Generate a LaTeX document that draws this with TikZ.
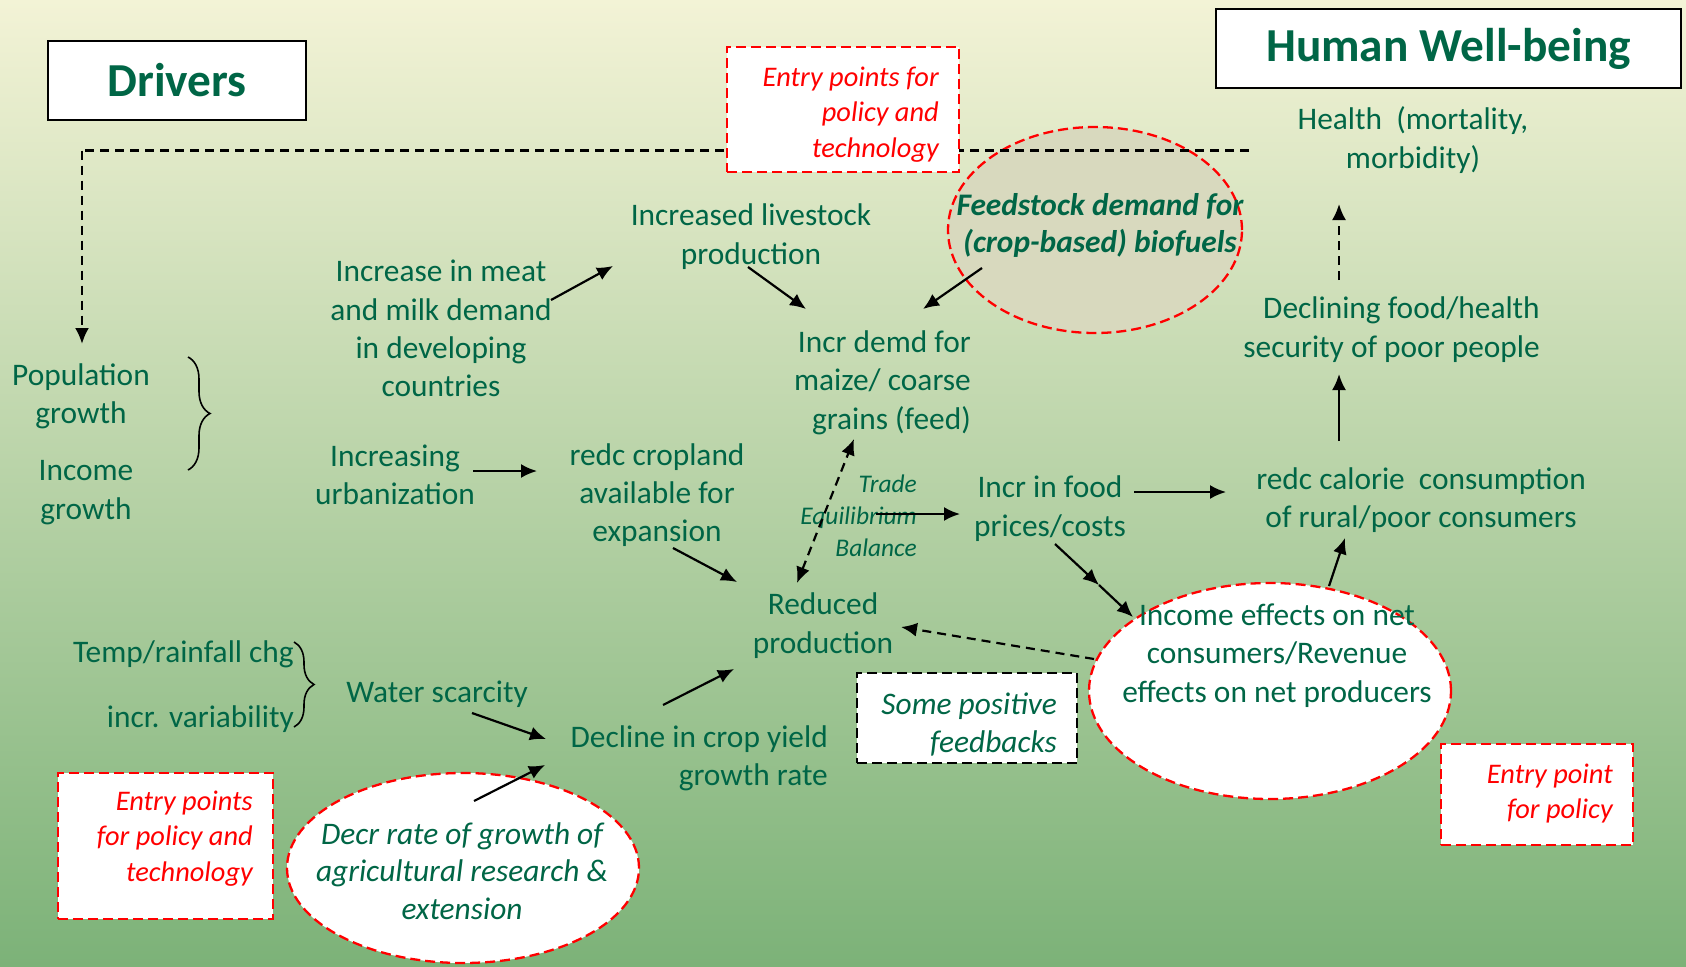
\documentclass[tikz,border=0pt]{standalone}
\usepackage{fontspec}
\setmainfont{Carlito}
\usetikzlibrary{arrows.meta,decorations.pathreplacing,shapes.geometric}
\definecolor{tgreen}{RGB}{0,102,70}
\definecolor{ered}{RGB}{255,0,0}
\definecolor{feedfill}{RGB}{216,217,190}
\definecolor{bgtop}{RGB}{243,243,214}
\definecolor{bgmid}{RGB}{206,226,182}
\definecolor{bgbot}{RGB}{124,178,120}
\tikzset{
 gtxt/.style={text=tgreen, font=\fontsize{31.5}{38.5}\selectfont, align=center, inner sep=0pt, yshift=-2.5bp},
 gtxtR/.style={gtxt, align=right},
 etxt/.style={text=ered, font=\fontsize{28.5}{35.5}\selectfont\itshape, align=right, inner sep=0pt, yshift=-2.5bp},
 itxt/.style={text=tgreen, font=\fontsize{31.5}{37.5}\selectfont\itshape, align=center, inner sep=0pt, yshift=-2.5bp},
 ttxt/.style={text=tgreen, font=\fontsize{25.5}{32}\selectfont\itshape, align=right, inner sep=0pt},
 titlebox/.style={draw=black, line width=2.5pt, fill=white, text=tgreen, font=\fontsize{47.5}{56}\selectfont\bfseries, inner sep=0pt},
 redbox/.style={draw=ered, line width=2.3pt, dash pattern=on 10bp off 5bp, fill=white, inner sep=0pt},
 redell/.style={ellipse, draw=ered, line width=2.3pt, dash pattern=on 10bp off 5bp, fill=white, inner sep=0pt},
 blkbox/.style={draw=black, line width=2.2pt, dash pattern=on 10bp off 5bp, fill=white, inner sep=0pt},
 tip/.style={Latex[length=16bp,width=14bp]},
 arr/.style={line width=2.2pt, -{Latex[length=16bp,width=14bp]}},
 darr/.style={arr, dash pattern=on 9bp off 6bp},
 brc/.style={decorate, decoration={brace, amplitude=#1}, line width=1.6pt},
}
\begin{document}
\begin{tikzpicture}[x=1bp,y=-1bp]
\useasboundingbox (0,0) rectangle (1686,966);
\shade[top color=bgtop, middle color=bgmid, bottom color=bgbot] (0,0) rectangle (1686,966);

% title boxes
\node[titlebox, minimum width=258bp, minimum height=79bp] (drivers) at (177,80.5) {Drivers};
\node[titlebox, minimum width=465bp, minimum height=79bp] (hwb) at (1448.5,48.5) {Human Well-being};

% feedstock ellipse (under the dashed line)
\node[redell, fill=feedfill, minimum width=294bp, minimum height=206bp] (feedell) at (1095,230) {};
\node[text=tgreen, font=\fontsize{31.5}{37.5}\selectfont\bfseries\itshape, align=center, inner sep=0pt, yshift=-2.5bp] (feed) at (1100,223) {Feedstock demand for\\(crop-based) biofuels};

% top dashed driver line
\coordinate (dl) at (82,150.5);
\coordinate (dr) at (1249,150.5);
\coordinate (popTop) at (82,344);
\draw[line width=2.5pt, dash pattern=on 9bp off 6bp] (dr) -- (dl);
\draw[darr, line width=2.5pt] (dl) -- (popTop);

% entry point boxes
\node[redbox, minimum width=232bp, minimum height=125bp] (ent1box) at (843,109.5) {};
\node[etxt, anchor=east] (ent1) at (939,112) {Entry points for\\policy and\\technology};
\node[redbox, minimum width=215bp, minimum height=146bp] (ent2box) at (165.5,846) {};
\node[etxt, anchor=east] (ent2) at (253,836) {Entry points\\for policy and\\technology};
\node[redbox, minimum width=192bp, minimum height=101bp] (ent3box) at (1537,794.5) {};
\node[etxt, anchor=east] (ent3) at (1613,791) {Entry point\\for policy};

% feedback box
\node[blkbox, minimum width=220bp, minimum height=90bp] (fbbox) at (967,718) {};
\node[itxt, align=right, anchor=east] (fb) at (1057,722) {Some positive\\feedbacks};

% ellipses
\node[redell, minimum width=362bp, minimum height=216bp] (incell) at (1270,691) {};
\node[gtxt] (inc) at (1277,653) {Income effects on net\\consumers/Revenue\\effects on net producers};
\node[redell, minimum width=352bp, minimum height=190bp] (decrell) at (463,868) {};
\node[itxt] (decr) at (462,868.5) {Decr rate of growth of\\agricultural research \&\\extension};

% text nodes
\node[gtxt] (health) at (1413,137.5) {Health~~(mortality,\\morbidity)};
\node[gtxtR, anchor=east] (decl) at (1540,327) {Declining food/health\\security of poor people};
\node[gtxt] (redc) at (1421,497.5) {redc calorie~~consumption\\of rural/poor consumers};
\node[gtxt] (food) at (1050,506) {Incr in food\\prices/costs};
\node[gtxt] (red) at (823,623) {Reduced\\production};
\node[gtxtR, anchor=east] (demd) at (971,380) {Incr demd for\\maize/ coarse\\grains (feed)};
\node[gtxt] (live) at (751,234) {Increased livestock\\production};
\node[gtxt] (meat) at (441,326) {Increase in meat\\and milk demand\\in developing\\countries};
\node[gtxt] (pop) at (81,394) {Population\\growth};
\node[gtxt] (incg) at (86,490) {Income\\growth};
\node[gtxt] (urb) at (395,472) {Increasing\\urbanization};
\node[gtxt] (crop) at (657,492.5) {redc cropland\\available for\\expansion};
\node[gtxt, anchor=east] (temp) at (294,652) {Temp/rainfall chg};
\node[gtxt, anchor=east] (var) at (294,717) {incr. variability};
\node[gtxt] (water) at (437,692) {Water scarcity};
\node[gtxtR, anchor=east] (decl2) at (828,755.5) {Decline in crop yield\\growth rate};
\node[ttxt, anchor=east] (trade) at (917,516) {Trade\\Equilibrium\\Balance};

% braces
\coordinate (b1t) at (188,357);
\coordinate (b1b) at (188,470);
\coordinate (b2t) at (294,642);
\coordinate (b2b) at (294,727);
\draw[brc=22bp] (b1t) -- (b1b);
\draw[brc=20bp] (b2t) -- (b2b);

% arrow end points
\coordinate (a1s) at (551,300);  \coordinate (a1e) at (613,266);
\coordinate (a2s) at (748,267);  \coordinate (a2e) at (806,309);
\coordinate (a3s) at (982,268);  \coordinate (a3e) at (923,309);
\coordinate (a4s) at (473,471);  \coordinate (a4e) at (537,471);
\coordinate (a5s) at (673,548);  \coordinate (a5e) at (737,582);
\coordinate (a6s) at (797,583);  \coordinate (a6e) at (854,439);
\coordinate (a7s) at (876,514);  \coordinate (a7e) at (960,514);
\coordinate (a8s) at (1134,492); \coordinate (a8e) at (1226,492);
\coordinate (a9s) at (1055,544); \coordinate (a9m) at (1099,585); \coordinate (a9e) at (1133,617);
\coordinate (a10s) at (1329,586); \coordinate (a10e) at (1345,538);
\coordinate (a11s) at (1339,441); \coordinate (a11e) at (1339,374);
\coordinate (a12s) at (1339,280); \coordinate (a12e) at (1339,204);
\coordinate (a13s) at (1094,659); \coordinate (a13e) at (901,627);
\coordinate (a14s) at (472,713);  \coordinate (a14e) at (546,739);
\coordinate (a15s) at (663,705);  \coordinate (a15e) at (734,669);
\coordinate (a16s) at (474,801);  \coordinate (a16e) at (545,765);

\draw[arr] (a1s) -- (a1e);
\draw[arr] (a2s) -- (a2e);
\draw[arr] (a3s) -- (a3e);
\draw[arr] (a4s) -- (a4e);
\draw[arr] (a5s) -- (a5e);
\draw[line width=2.2pt, dash pattern=on 9bp off 6bp, {Latex[length=16bp,width=14bp]}-{Latex[length=16bp,width=14bp]}] (a6s) -- (a6e);
\draw[arr] (a7s) -- (a7e);
\draw[arr] (a8s) -- (a8e);
\draw[arr] (a9s) -- (a9m);
\draw[arr] (a9m) -- (a9e);
\draw[arr] (a10s) -- (a10e);
\draw[arr] (a11s) -- (a11e);
\draw[darr] (a12s) -- (a12e);
\draw[darr] (a13s) -- (a13e);
\draw[arr] (a14s) -- (a14e);
\draw[arr] (a15s) -- (a15e);
\draw[arr] (a16s) -- (a16e);
\end{tikzpicture}
\end{document}
